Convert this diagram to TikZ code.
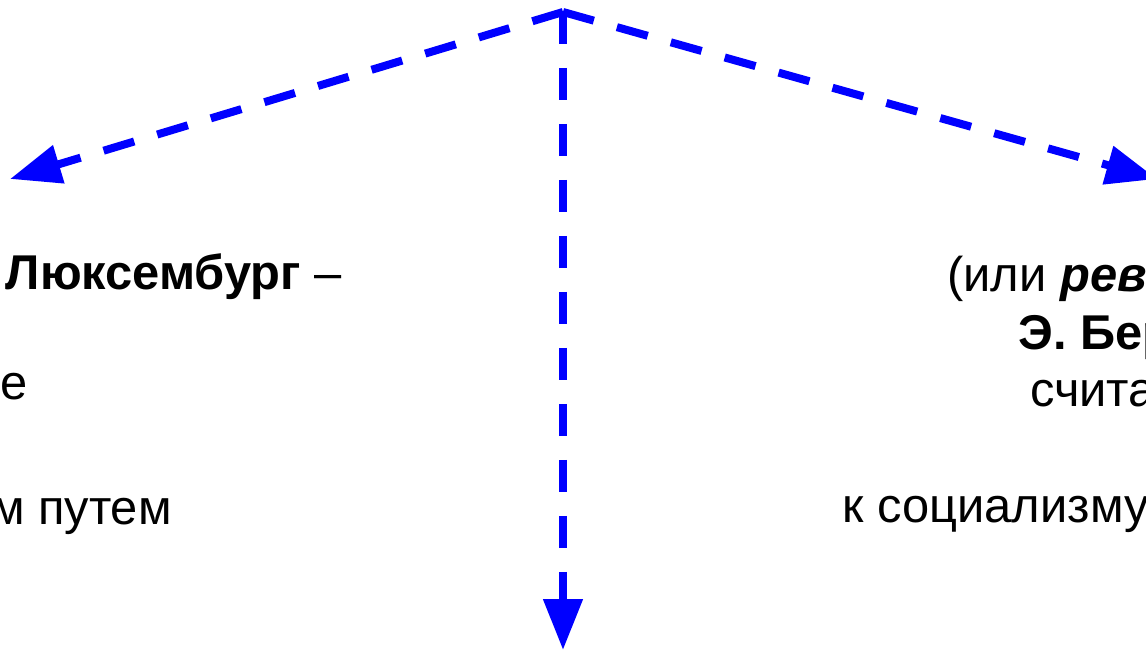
\documentclass[tikz,border=0pt]{standalone}
\usepackage{fontspec}
\setmainfont{Liberation Sans}
\usetikzlibrary{arrows.meta}
\definecolor{arrblue}{RGB}{0,0,255}

\begin{document}
\begin{tikzpicture}[
  x=0.02cm, y=-0.02cm,
  txt/.style={inner sep=0pt, font=\fontsize{27.8}{33}\selectfont},
  >={Triangle[length=1.02cm, width=0.76cm]},
  dasharr/.style={->, arrblue, line width=0.16cm, dash pattern=on 0.64cm off 0.48cm},
]
\useasboundingbox (0,0) rectangle (1146,651);

% ============ Arrow ends ============
\coordinate (apex) at (563,12);
\coordinate (leftTip) at (10,179);
\coordinate (rightTip) at (1157,179);
\coordinate (downTip) at (563,650);

% ============ Left column (cut at the edge) ============
\node[txt, anchor=base east] (luxA) at (342,290) {\textbf{Люксембург} –};
\node[txt, anchor=base east] (luxB) at (28,400) {е};
\node[txt, anchor=base east] (luxC) at (172,524) {м путем};

% ============ Right column (cut at the edge) ============
\node[txt, anchor=base west] (bernA) at (947,292) {(или \textbf{\textit{рев}}};
\node[txt, anchor=base west] (bernB) at (1018,350) {\textbf{Э. Бер}};
\node[txt, anchor=base west] (bernC) at (1030,407) {счита};
\node[txt, anchor=base west] (bernD) at (842,522) {к социализму};

% ===================== ARROWS =====================
\draw[dasharr] (apex) -- (leftTip);
\draw[dasharr] (apex) -- (rightTip);
\draw[dasharr] (apex) -- (downTip);

\end{tikzpicture}
\end{document}
